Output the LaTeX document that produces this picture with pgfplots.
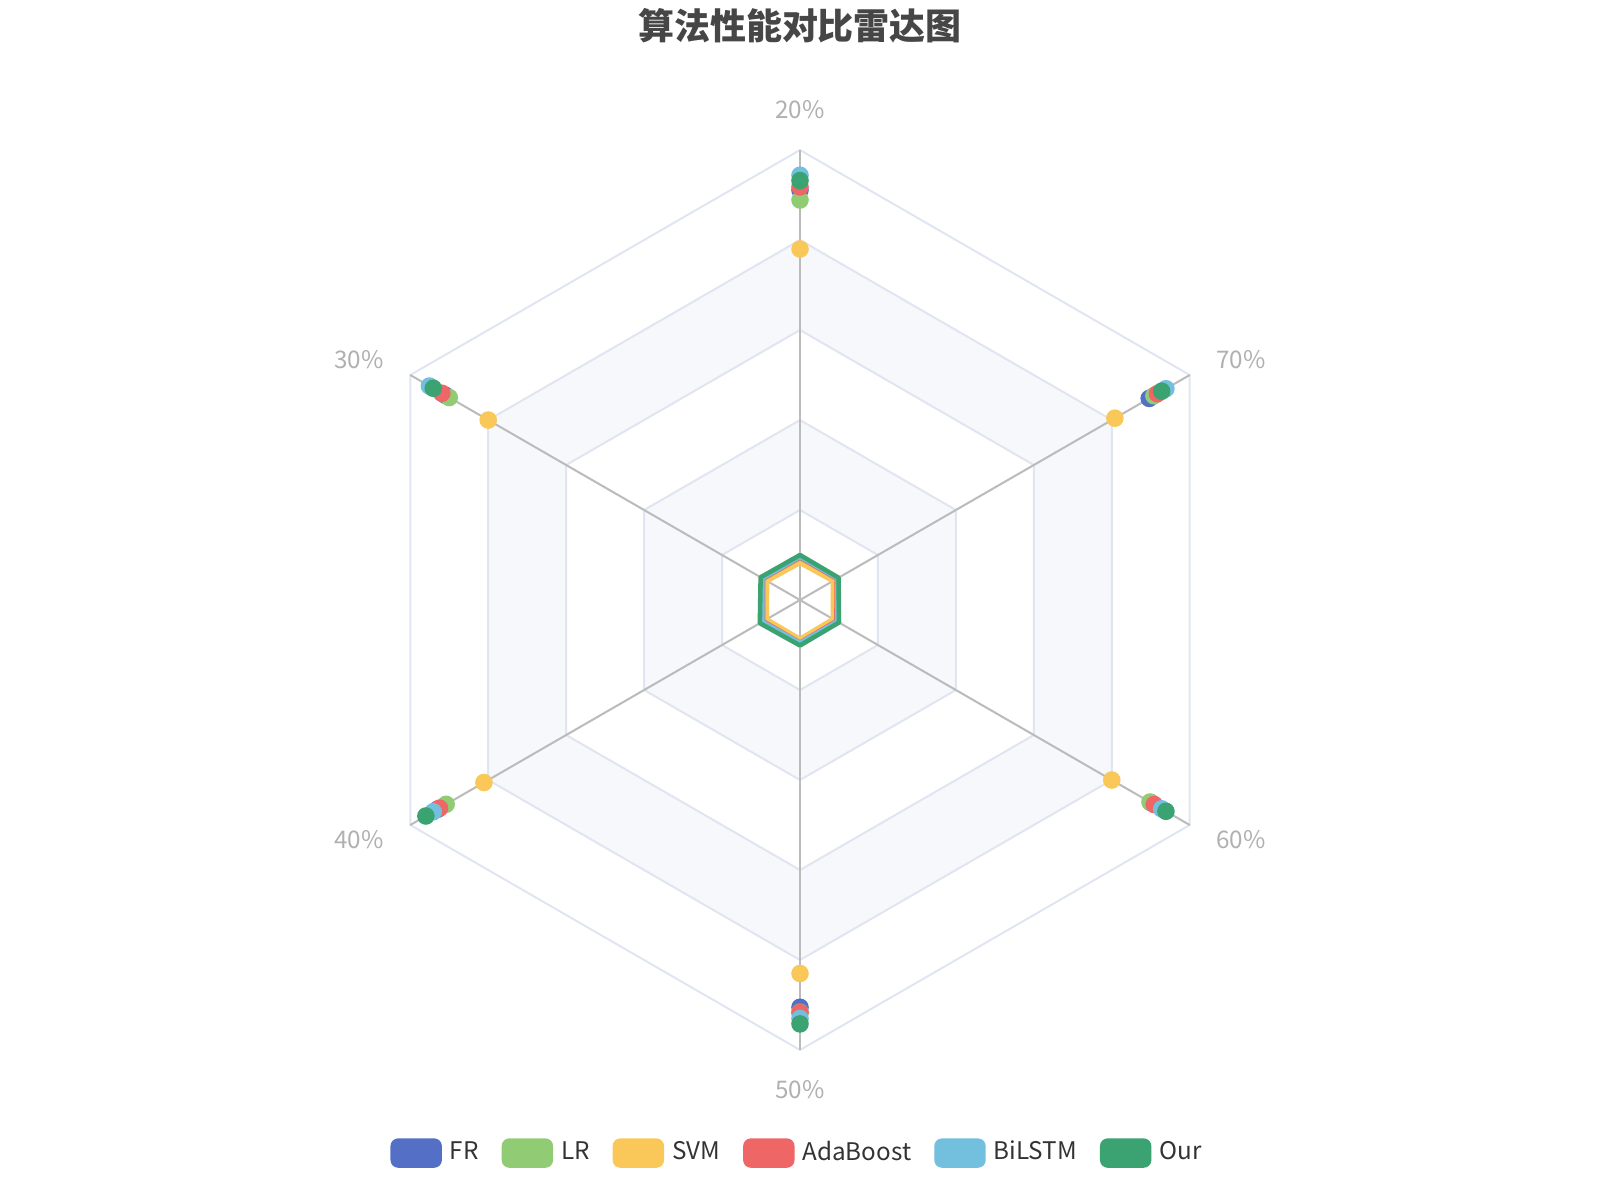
\documentclass[border=0pt]{standalone}
\usepackage{fontspec}
\setmainfont{Noto Sans CJK SC}
\usepackage{pgfplots}
\usepackage{pgfplotstable}
\pgfplotsset{compat=1.18}
\usepgfplotslibrary{polar}

\definecolor{fr}{HTML}{5470C6}
\definecolor{lr}{HTML}{91CC75}
\definecolor{svm}{HTML}{FAC858}
\definecolor{ada}{HTML}{EE6666}
\definecolor{bilstm}{HTML}{73C0DE}
\definecolor{our}{HTML}{3BA272}
\definecolor{splitline}{HTML}{E0E6F1}
\definecolor{shade}{RGB}{246,248,252}
\definecolor{spoke}{HTML}{BBBBBB}
\definecolor{axname}{HTML}{B0B0B0}
\definecolor{titlec}{HTML}{464646}
\definecolor{legtext}{HTML}{333333}

% angle: 90=20%, 150=30%, 210=40%, 270=50%, 330=60%, 30=70%
% point = marker position, line = the small polygon drawn by the series
\pgfplotstableread{
angle point line
90  0.911 0.092
150 0.910 0.092
210 0.930 0.093
270 0.905 0.091
330 0.900 0.091
30  0.896 0.091
}\frdata
\pgfplotstableread{
angle point line
90  0.889 0.090
150 0.900 0.090
210 0.908 0.091
270 0.916 0.091
330 0.898 0.090
30  0.908 0.090
}\lrdata
\pgfplotstableread{
angle point line
90  0.780 0.082
150 0.800 0.084
210 0.811 0.085
270 0.830 0.086
330 0.800 0.084
30  0.808 0.084
}\svmdata
\pgfplotstableread{
angle point line
90  0.918 0.094
150 0.919 0.094
210 0.925 0.094
270 0.917 0.094
330 0.909 0.093
30  0.917 0.094
}\adadata
\pgfplotstableread{
angle point line
90  0.944 0.096
150 0.951 0.096
210 0.941 0.096
270 0.930 0.095
330 0.928 0.095
30  0.939 0.096
}\bilstmdata
\pgfplotstableread{
angle point line
90  0.932 0.100
150 0.941 0.101
210 0.960 0.103
270 0.942 0.101
330 0.939 0.100
30  0.928 0.099
}\ourdata

\newcommand{\labfont}{\fontsize{6.9pt}{8pt}\selectfont}

\begin{document}
\begin{tikzpicture}
\begin{polaraxis}[
    width=9cm, height=9cm, scale only axis,
    xmin=0, xmax=360, ymin=0, ymax=1,
    enlargelimits=false,
    axis line style={draw=none},
    xtick=\empty, ytick=\empty,
    grid=none, clip=false,
    legend columns=-1,
    legend style={
        at={(axis cs:270,1.229)}, anchor=center,
        draw=none, fill=none,
        font=\labfont, text=legtext,
        nodes={inner xsep=0.08cm, inner ysep=0.05cm},
        /tikz/every even column/.append style={column sep=0.15cm},
    },
    legend cell align=left,
]
% split areas
\addplot[forget plot, fill=white, draw=none] coordinates {(90,1) (150,1) (210,1) (270,1) (330,1) (30,1)} -- cycle;
\addplot[forget plot, fill=shade, draw=none] coordinates {(90,0.8) (150,0.8) (210,0.8) (270,0.8) (330,0.8) (30,0.8)} -- cycle;
\addplot[forget plot, fill=white, draw=none] coordinates {(90,0.6) (150,0.6) (210,0.6) (270,0.6) (330,0.6) (30,0.6)} -- cycle;
\addplot[forget plot, fill=shade, draw=none] coordinates {(90,0.4) (150,0.4) (210,0.4) (270,0.4) (330,0.4) (30,0.4)} -- cycle;
\addplot[forget plot, fill=white, draw=none] coordinates {(90,0.2) (150,0.2) (210,0.2) (270,0.2) (330,0.2) (30,0.2)} -- cycle;
% split lines
\foreach \r in {0.2,0.4,0.6,0.8,1} {
  \addplot[forget plot, draw=splitline, line width=0.57pt] coordinates {(90,\r) (150,\r) (210,\r) (270,\r) (330,\r) (30,\r)} -- cycle;
}
% spokes
\addplot[forget plot, draw=spoke, line width=0.57pt] coordinates {(90,1) (270,1)};
\addplot[forget plot, draw=spoke, line width=0.57pt] coordinates {(30,1) (210,1)};
\addplot[forget plot, draw=spoke, line width=0.57pt] coordinates {(150,1) (330,1)};
% indicator names
\tikzset{axlab/.style={text=axname, font=\labfont, inner sep=0pt}}
\node[axlab, anchor=south] at (axis cs:90,1.0667) {20\%};
\node[axlab, anchor=east] at (axis cs:150,1.0667) {30\%};
\node[axlab, anchor=east] at (axis cs:210,1.0667) {40\%};
\node[axlab, anchor=north] at (axis cs:270,1.0667) {50\%};
\node[axlab, anchor=west] at (axis cs:330,1.0667) {60\%};
\node[axlab, anchor=west] at (axis cs:30,1.0667) {70\%};
% title
\node[text=titlec, font=\fontsize{10.24pt}{12pt}\selectfont\bfseries] at (axis cs:90,1.2756) {算法性能对比雷达图};
\coordinate (c) at (axis cs:0,0);

% series polygons
\addplot[forget plot, draw=fr, line width=1.2pt, line join=round] table[x=angle,y=line]{\frdata} -- cycle;
\addplot[forget plot, draw=lr, line width=1.2pt, line join=round] table[x=angle,y=line]{\lrdata} -- cycle;
\addplot[forget plot, draw=svm, line width=1.2pt, line join=round] table[x=angle,y=line]{\svmdata} -- cycle;
\addplot[forget plot, draw=ada, line width=1.2pt, line join=round] table[x=angle,y=line]{\adadata} -- cycle;
\addplot[forget plot, draw=bilstm, line width=1.2pt, line join=round] table[x=angle,y=line]{\bilstmdata} -- cycle;
\addplot[forget plot, draw=our, line width=1.3pt, line join=round] table[x=angle,y=line]{\ourdata} -- cycle;

% series markers
\addplot[only marks, mark=*, mark size=2.3pt, draw=fr, fill=fr,
  legend image code/.code={\fill[fr, rounded corners=0.07cm] (0cm,-0.14cm) rectangle (0.5cm,0.14cm);}]
  table[x=angle,y=point]{\frdata};
\addlegendentry{FR}
\addplot[only marks, mark=*, mark size=2.3pt, draw=lr, fill=lr,
  legend image code/.code={\fill[lr, rounded corners=0.07cm] (0cm,-0.14cm) rectangle (0.5cm,0.14cm);}]
  table[x=angle,y=point]{\lrdata};
\addlegendentry{LR}
\addplot[only marks, mark=*, mark size=2.3pt, draw=svm, fill=svm,
  legend image code/.code={\fill[svm, rounded corners=0.07cm] (0cm,-0.14cm) rectangle (0.5cm,0.14cm);}]
  table[x=angle,y=point]{\svmdata};
\addlegendentry{SVM}
\addplot[only marks, mark=*, mark size=2.3pt, draw=ada, fill=ada,
  legend image code/.code={\fill[ada, rounded corners=0.07cm] (0cm,-0.14cm) rectangle (0.5cm,0.14cm);}]
  table[x=angle,y=point]{\adadata};
\addlegendentry{AdaBoost}
\addplot[only marks, mark=*, mark size=2.3pt, draw=bilstm, fill=bilstm,
  legend image code/.code={\fill[bilstm, rounded corners=0.07cm] (0cm,-0.14cm) rectangle (0.5cm,0.14cm);}]
  table[x=angle,y=point]{\bilstmdata};
\addlegendentry{BiLSTM}
\addplot[only marks, mark=*, mark size=2.3pt, draw=our, fill=our,
  legend image code/.code={\fill[our, rounded corners=0.07cm] (0cm,-0.14cm) rectangle (0.5cm,0.14cm);}]
  table[x=angle,y=point]{\ourdata};
\addlegendentry{Our}
\end{polaraxis}
\pgfresetboundingbox
\path (c) ++(-8cm,-6cm) rectangle ++(16cm,12cm);
\end{tikzpicture}
\end{document}
